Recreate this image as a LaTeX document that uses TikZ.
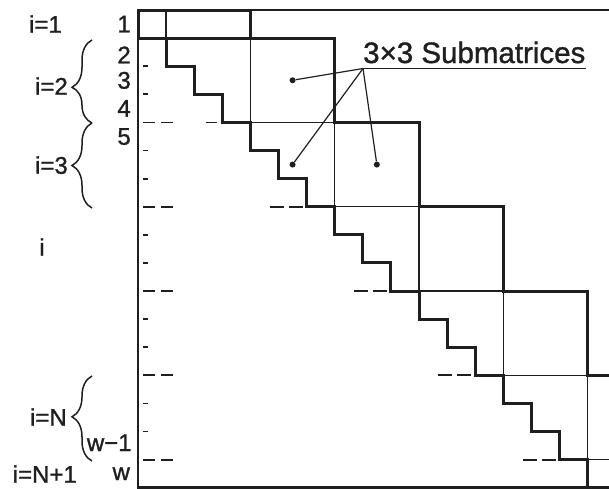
\documentclass[tikz,border=0pt]{standalone}
\usepackage{fontspec}
\setmainfont{Liberation Sans}[FakeBold=1.2]
\usetikzlibrary{decorations.pathreplacing}

\begin{document}
\begin{tikzpicture}[x=1pt,y=-1pt,
  ink/.style={draw=black!88},
  band/.style={ink, line width=3pt, line join=miter, line cap=rect},
  blockline/.style={ink, line width=1.4pt},
  outline/.style={ink, line width=2.6pt},
  rowtick/.style={ink, line width=1.8pt},
  cut/.style={ink, line width=1.8pt, dash pattern=on 12pt off 6pt},
  lbl/.style={font=\fontsize{24}{24}\selectfont, inner sep=0pt, text depth=0pt, text=black!88},
  grp/.style={ink, line width=1.5pt, decorate, decoration={brace, amplitude=20pt, aspect=#1}},
  grp/.default=0.5,
  subdot/.style={circle, fill=black!88, inner sep=0pt, minimum size=6pt},
  lead/.style={ink, line width=1.2pt}]

\useasboundingbox (0,0) rectangle (609,488);

\begin{scope}
\clip (0,0) rectangle (609,488);
% matrix in cell units: column c, row r
\begin{scope}[shift={(138,10)}, x=28.1pt, y=-28.1pt]
  % outer frame
  \draw[outline] (17.5,0) -- (0,0) -- (0,17) -- (17.5,17);
  % boundary row i=1
  \draw[band] (0,0) rectangle (4,1);
  \draw[blockline] (1,0) -- (1,1);
  % lower profile: staircase along the diagonal
  \draw[band] (1,1) \foreach \k in {2,...,16} { -- ({\k-1},\k) -- (\k,\k) } -- (16,17);
  % upper profile of the block band
  \draw[band] (4,0) -- (4,1) -- (7,1) -- (7,4) -- (10,4) -- (10,7)
              -- (13,7) -- (13,10) -- (16,10) -- (16,13) -- (17.5,13);
  % 3x3 block boundaries inside the band
  \draw[blockline] (4,1) -- (4,4) -- (7,4) -- (7,7) -- (10,7) -- (10,10)
              -- (13,10) -- (13,13) -- (16,13) -- (16,16) -- (17.5,16);
  % row ticks on the left edge
  \foreach \r in {2,3,5,6,8,9,11,12,14,15}
    \draw[rowtick] (0.18,\r) -- (0.36,\r);
  % block separators, shown only near the edge and near the diagonal
  \foreach \r in {4,7,10,13,16}
    \draw[cut] (0.18,\r) -- (1.25,\r);
  \draw[cut] ({3-16/28.1},4) -- ({3-5/28.1},4);
  \foreach \r in {7,10,13,16}
    \draw[cut, dash pattern=on 14pt off 5pt] ({\r-1-37/28.1},\r) -- ({\r-1-4/28.1},\r);
  % sample submatrices
  \node[subdot] (d1) at (5.5,2.5) {};
  \node[subdot] (d2) at (5.5,5.5) {};
  \node[subdot] (d3) at (8.5,5.5) {};
  % row numbers
  \node[lbl, anchor=east] (n1) at (-0.25,0.5) {1};
  \node[lbl, anchor=east] (n2) at (-0.25,1.6) {2};
  \node[lbl, anchor=east] (n3) at (-0.25,2.5) {3};
  \node[lbl, anchor=east] (n4) at (-0.25,3.5) {4};
  \node[lbl, anchor=east] (n5) at (-0.25,4.5) {5};
  \node[lbl, anchor=east] (nw1) at (-0.22,15.4) {w−1};
  \node[lbl, anchor=east] (nw) at (-0.28,16.5) {w};
\end{scope}
\end{scope}

% block index labels
\node[lbl, anchor=east] (i1) at (62,24) {i=1};
\node[lbl, anchor=east] (i2) at (68,86) {i=2};
\node[lbl, anchor=east] (i3) at (68,165) {i=3};
\node[lbl] (ii) at (42,247) {i};
\node[lbl, anchor=east] (iN) at (67,417) {i=N};
\node[lbl, anchor=east] (iN1) at (77,474) {i=N+1};

% braces grouping the rows of each block
\draw[grp=0.43] (92,123) -- (92,40);
\draw[grp] (92,208) -- (92,123);
\draw[grp=0.52] (92,461) -- (92,376);

% callout
\node[font=\fontsize{29.5}{29.5}\selectfont, inner sep=0pt, text=black!88, anchor=base west]
  (sub) at (363,63) {3×3 Submatrices};
\coordinate (hub) at (363,68.5);
\coordinate (ulend) at (586,68.5);
\draw[lead] (hub) -- (ulend);
\draw[lead] (hub) -- (d1);
\draw[lead] (hub) -- (d2);
\draw[lead] (hub) -- (d3);
\end{tikzpicture}
\end{document}
